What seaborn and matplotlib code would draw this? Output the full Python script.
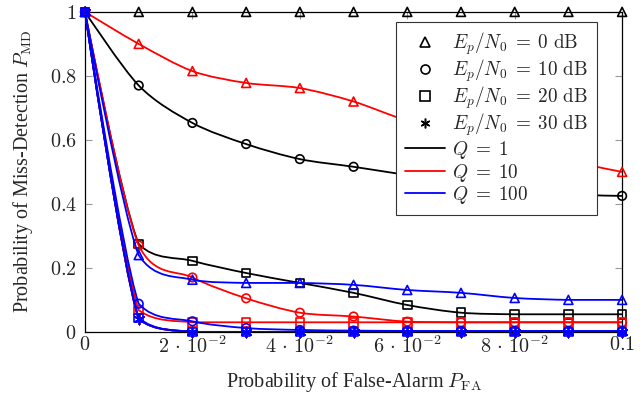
import numpy as np
import pandas as pd
import seaborn as sns
import matplotlib.pyplot as plt
from matplotlib.path import Path
from matplotlib.patches import PathPatch
from matplotlib.lines import Line2D

# -----------------------------
# datos
# -----------------------------
pfa = [0.0, 0.01, 0.02, 0.03, 0.04, 0.05, 0.06, 0.07, 0.08, 0.09, 0.1]

# Q = 1
q1_0db = [1, 1, 1, 1, 1, 1, 1, 1, 1, 1, 1]
q1_10db = [1, 0.77, 0.653, 0.587, 0.54, 0.516, 0.49, 0.465, 0.445, 0.43, 0.425]
q1_20db = [1, 0.275, 0.222, 0.184, 0.153, 0.122, 0.084, 0.06, 0.055, 0.055, 0.055]
q1_30db = [1, 0.04, 0, 0, 0, 0, 0, 0, 0, 0, 0]

# Q = 10
q10_0db = [1, 0.9, 0.815, 0.778, 0.762, 0.72, 0.66, 0.62, 0.58, 0.535, 0.5]
q10_10db = [1, 0.27, 0.17, 0.105, 0.06, 0.048, 0.032, 0.03, 0.03, 0.03, 0.03]
q10_20db = [1, 0.068, 0.03, 0.03, 0.03, 0.03, 0.03, 0.03, 0.03, 0.03, 0.03]
q10_30db = [1, 0.04, 0, 0, 0, 0, 0, 0, 0, 0, 0]

# Q = 100
q100_0db = [1, 0.24, 0.163, 0.153, 0.153, 0.147, 0.131, 0.122, 0.106, 0.1, 0.1]
q100_10db = [1, 0.088, 0.033, 0.012, 0.006, 0.004, 0.003, 0.003, 0.003, 0.003, 0.003]
q100_20db = [1, 0.044, 0, 0, 0, 0, 0, 0, 0, 0, 0]
q100_30db = [1, 0.04, 0, 0, 0, 0, 0, 0, 0, 0, 0]

q_labels = ["1", "10", "100"]
q_colors = ["black", "red", "blue"]
ep_labels = ["0", "10", "20", "30"]
ep_markers = ["^", "o", "s", (6, 2, 0)]
valores = [
    [q1_0db, q1_10db, q1_20db, q1_30db],
    [q10_0db, q10_10db, q10_20db, q10_30db],
    [q100_0db, q100_10db, q100_20db, q100_30db],
]

xticks = [0, 0.02, 0.04, 0.06, 0.08, 0.1]
xtick_labels = [r"$0$", r"$2\,\cdot\,10^{-2}$", r"$4\,\cdot\,10^{-2}$",
                r"$6\,\cdot\,10^{-2}$", r"$8\,\cdot\,10^{-2}$", r"$0.1$"]
yticks = [0, 0.2, 0.4, 0.6, 0.8, 1]
ytick_labels = [r"$0$", r"$0.2$", r"$0.4$", r"$0.6$", r"$0.8$", r"$1$"]


def curva_suave(x, y, tension=0.15):
    # curva suave tipo pgfplots (bezier cubica), sin pasarse de los puntos
    p = np.column_stack([x, y]).astype(float)
    n = len(p)
    verts = [p[0]]
    codes = [Path.MOVETO]
    for i in range(n - 1):
        lo, hi = sorted([p[i, 1], p[i + 1, 1]])
        a = p[i - 1] if i > 0 else p[i]
        b = p[i + 2] if i + 2 < n else p[i + 1]
        c1 = p[i] + tension * (p[i + 1] - a) if i > 0 else p[i].copy()
        c2 = p[i + 1] - tension * (b - p[i]) if i + 2 < n else p[i + 1].copy()
        c1[1] = min(max(c1[1], lo), hi)
        c2[1] = min(max(c2[1], lo), hi)
        verts += [c1, c2, p[i + 1]]
        codes += [Path.CURVE4] * 3
    return Path(verts, codes)


# -----------------------------
# estilo
# -----------------------------
sns.set_style("ticks")
plt.rcParams["font.family"] = ["Liberation Serif", "DejaVu Serif"]
plt.rcParams["mathtext.fontset"] = "cm"
fs = 14.5
fs_leg = 13.8

fig, ax = plt.subplots(figsize=(6.44, 3.97), dpi=100)
fig.subplots_adjust(left=0.132, right=0.966, top=0.970, bottom=0.164)

z = 2
for qi, color in enumerate(q_colors):
    for ei, marker in enumerate(ep_markers):
        y = valores[qi][ei]
        ax.add_patch(PathPatch(curva_suave(pfa, y), fill=False,
                               edgecolor=color, lw=1.3, zorder=z))
        df = pd.DataFrame({"pfa": pfa, "pmd": y})
        if ei == 3:
            sns.scatterplot(data=df, x="pfa", y="pmd", ax=ax, marker=marker,
                            color=color, s=55, linewidth=1.1,
                            zorder=z + 0.5, clip_on=False)
        else:
            sns.scatterplot(data=df, x="pfa", y="pmd", ax=ax, marker=marker,
                            facecolor="none", edgecolor=color,
                            s=38 if marker != "^" else 42, linewidth=1.2,
                            zorder=z + 0.5, clip_on=False)
        z += 1

ax.set_xlim(0, 0.1)
ax.set_ylim(0, 1)
ax.set_xticks(xticks)
ax.set_xticklabels(xtick_labels)
ax.set_yticks(yticks)
ax.set_yticklabels(ytick_labels)
ax.tick_params(direction="in", top=True, right=True, length=5,
               color="#999999", width=0.8, labelsize=fs, pad=3)
ax.tick_params(axis="y", pad=6)
for sp in ax.spines.values():
    sp.set_visible(True)
    sp.set_color("black")
    sp.set_linewidth(0.9)
    sp.set_zorder(1.5)

ax.set_xlabel(r"Probability of False-Alarm $P_{\mathrm{FA}}$", fontsize=fs)
ax.set_ylabel(r"Probability of Miss-Detection $P_{\mathrm{MD}}$", fontsize=fs)
ax.xaxis.set_label_coords(0.5, -0.118)
ax.yaxis.set_label_coords(-0.093, 0.5)

handles = []
labels = []
for ei, marker in enumerate(ep_markers):
    if ei == 3:
        h = Line2D([], [], ls="none", marker=marker, color="black",
                   markersize=7, markeredgewidth=1.1)
    else:
        h = Line2D([], [], ls="none", marker=marker, markerfacecolor="none",
                   markeredgecolor="black", markersize=6.5,
                   markeredgewidth=1.2)
    handles.append(h)
    labels.append(r"$E_p/N_0 \;=\; %s\ \mathrm{dB}$" % ep_labels[ei])
for qi, color in enumerate(q_colors):
    handles.append(Line2D([], [], color=color, lw=1.3))
    labels.append(r"$Q \;=\; %s$" % q_labels[qi])

leg = ax.legend(handles, labels, loc="upper right",
                bbox_to_anchor=(0.953, 0.969), frameon=True, fancybox=False,
                framealpha=1, edgecolor="#333333", handlelength=2.1,
                handletextpad=0.35, labelspacing=0.03, borderpad=0.47,
                fontsize=fs_leg, borderaxespad=0)
leg.get_frame().set_linewidth(0.8)
leg.set_zorder(100)

fig.savefig("out.png", dpi=100)
